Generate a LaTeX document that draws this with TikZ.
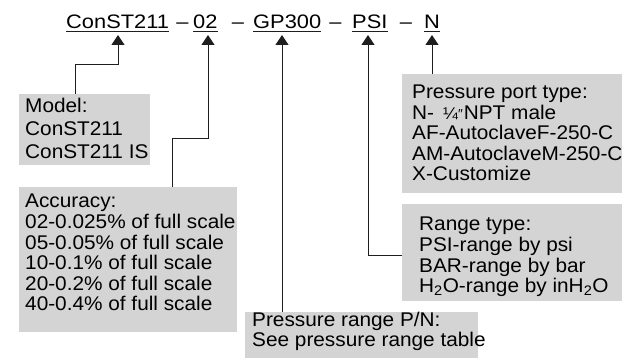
\documentclass[tikz,border=0pt]{standalone}
\usepackage{fontspec}
\setmainfont{Liberation Sans}[FakeStretch=1.05]
\newfontfamily\ttlfont{Liberation Sans}[FakeStretch=1.12]
\usetikzlibrary{arrows.meta}
\definecolor{boxgray}{RGB}{212,212,212}
\definecolor{linecol}{RGB}{30,30,30}
\begin{document}
\begin{tikzpicture}[x=1pt,y=-1pt,
  box/.style={fill=boxgray,draw=none,inner sep=0pt,anchor=north west},
  txt/.style={anchor=base west,inner sep=0pt,font=\fontsize{19.8pt}{20pt}\selectfont,text=black},
  ttl/.style={anchor=base west,inner sep=0pt,font=\ttlfont\fontsize{19.5pt}{20pt}\selectfont,text=black},
  arr/.style={draw=linecol,line width=0.9pt,-{Triangle[length=10pt,width=13pt]}},
  ul/.style={draw=linecol,line width=0.8pt}]
\useasboundingbox (0,0) rectangle (630,358);

% title
\node[ttl] (t1) at (66,28.5) {ConST211};
\node[ttl,anchor=base] (d1) at (182.5,28.5) {–};
\node[ttl] (t2) at (193,28.5) {02};
\node[ttl,anchor=base] (d2) at (238,28.5) {–};
\node[ttl] (t3) at (253,28.5) {GP300};
\node[ttl,anchor=base] (d3) at (335.5,28.5) {–};
\node[ttl] (t4) at (352,28.5) {PSI};
\node[ttl,anchor=base] (d4) at (406,28.5) {–};
\node[ttl] (t5) at (424,28.5) {N};
\foreach \n in {t1,t2,t3,t4,t5}
  \draw[ul] ([yshift=-3pt]\n.base west) -- ([yshift=-3pt]\n.base east);

% boxes
\node[box,minimum width=131pt,minimum height=71pt] (mdl) at (19,94) {};
\node[box,minimum width=218pt,minimum height=145pt] (acc) at (19,187) {};
\node[box,minimum width=220pt,minimum height=119pt] (prt) at (402,74) {};
\node[box,minimum width=220pt,minimum height=97pt] (rng) at (402,204) {};
\node[box,minimum width=233pt,minimum height=46pt] (prr) at (245,312) {};

% box texts
\foreach \t [count=\i] in {Model:,ConST211,ConST211 IS}
  \node[txt] (m\i) at (25,{113+23*(\i-1)}) {\t};
\foreach \t [count=\i] in {Accuracy:,02-0.025\% of full scale,05-0.05\% of full scale,10-0.1\% of full scale,20-0.2\% of full scale,40-0.4\% of full scale}
  \node[txt] (a\i) at (25,{208+20.6*(\i-1)}) {\t};
\foreach \t [count=\i] in {Pressure port type:,{N-\hspace{9pt}{\fontsize{17pt}{17pt}\selectfont ¼}\raisebox{1pt}{\fontsize{13pt}{13pt}\selectfont ″}\hspace{1pt}NPT male},AF-AutoclaveF-250-C,AM-AutoclaveM-250-C,X-Customize}
  \node[txt] (p\i) at (412,{99+20.5*(\i-1)}) {\t};
\foreach \t [count=\i] in {Range type:,PSI-range by psi,BAR-range by bar,{H\textsubscript{2}O-range by inH\textsubscript{2}O}}
  \node[txt] (r\i) at (419,{231+20.6*(\i-1)}) {\t};
\foreach \t [count=\i] in {Pressure range P/N:,See pressure range table}
  \node[txt] (q\i) at (252,{327+20*(\i-1)}) {\t};

% arrow tips and bends
\coordinate (tip1) at (118,35);
\coordinate (tip2) at (208,35);
\coordinate (tip3) at (282,35);
\coordinate (tip4) at (368,35);
\coordinate (tip5) at (432,35);
\coordinate (k1) at (75,64);
\coordinate (k2) at (172,138);
\coordinate (k4) at (368,255);

% connectors
\draw[arr] (mdl.north -| k1) -- (k1) -| (tip1);
\draw[arr] (acc.north -| k2) -- (k2) -| (tip2);
\draw[arr] (prr.north -| tip3) -- (tip3);
\draw[arr] (rng.west |- k4) -- (k4) -- (tip4);
\draw[arr] (prt.north -| tip5) -- (tip5);
\end{tikzpicture}
\end{document}
